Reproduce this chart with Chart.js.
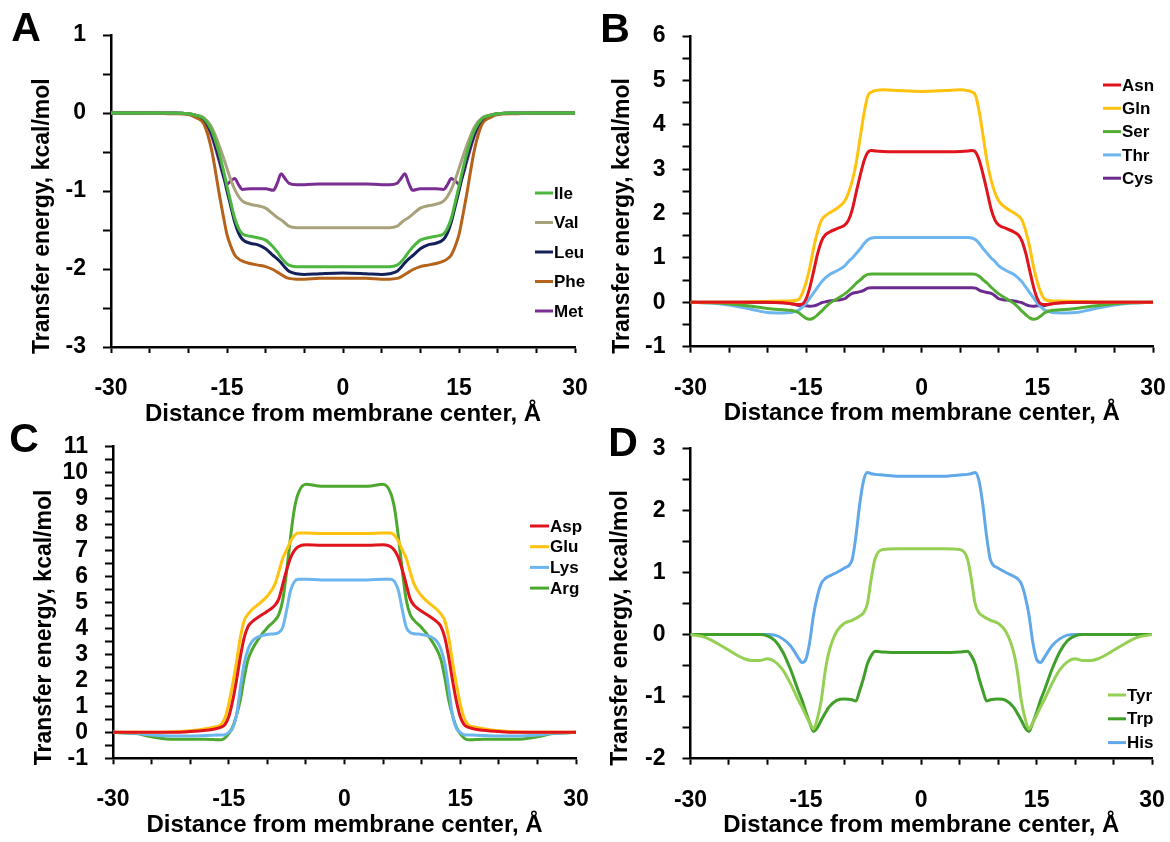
<!DOCTYPE html>
<html>
<head>
<meta charset="utf-8">
<script src="https://cdn.jsdelivr.net/npm/chart.js@4.4.1/dist/chart.umd.min.js"></script>
<style>
html,body{margin:0;padding:0;background:#fff;}
#wrap{position:relative;width:1170px;height:842px;overflow:hidden;background:#fff;}
#wrap canvas{position:absolute;left:0;top:0;}
</style>
</head>
<body>
<div id="wrap">
<canvas id="cA" width="1170" height="842"></canvas>
<canvas id="cB" width="1170" height="842"></canvas>
<canvas id="cC" width="1170" height="842"></canvas>
<canvas id="cD" width="1170" height="842"></canvas>
</div>
<script>
// ---------- Panel A ----------
const xA = [-30,-25,-22,-20,-19,-18,-17,-16,-15.5,-15,-14.5,-14,-13.5,-13,-12,-11,-10,-9,-8.5,-8,-7.5,-7,-6,-5,-3,0,3,5,6,7,7.5,8,8.5,9,10,11,12,13,13.5,14,14.5,15,15.5,16,17,18,19,20,22,25,30];
const ile = [0,0,0,-0.01,-0.03,-0.07,-0.22,-0.52,-0.72,-0.94,-1.15,-1.35,-1.48,-1.55,-1.58,-1.6,-1.63,-1.72,-1.78,-1.85,-1.91,-1.95,-1.97,-1.97,-1.97,
  -1.97,
  -1.97,-1.97,-1.97,-1.95,-1.91,-1.85,-1.78,-1.72,-1.63,-1.6,-1.58,-1.55,-1.48,-1.35,-1.15,-0.94,-0.72,-0.52,-0.22,-0.07,-0.03,-0.01,0,0,0];
const val = [0,0,0,-0.01,-0.03,-0.06,-0.18,-0.42,-0.56,-0.71,-0.86,-0.98,-1.07,-1.13,-1.17,-1.19,-1.22,-1.3,-1.34,-1.37,-1.41,-1.45,-1.47,-1.47,-1.47,
  -1.47,
  -1.47,-1.47,-1.47,-1.45,-1.41,-1.37,-1.34,-1.3,-1.22,-1.19,-1.17,-1.13,-1.07,-0.98,-0.86,-0.71,-0.56,-0.42,-0.18,-0.06,-0.03,-0.01,0,0,0];
const leu = [0,0,0,-0.01,-0.03,-0.08,-0.26,-0.58,-0.78,-1,-1.2,-1.4,-1.54,-1.62,-1.67,-1.69,-1.74,-1.83,-1.87,-1.92,-1.98,-2.03,-2.06,-2.07,-2.06,
  -2.05,
  -2.06,-2.07,-2.06,-2.03,-1.98,-1.92,-1.87,-1.83,-1.74,-1.69,-1.67,-1.62,-1.54,-1.4,-1.2,-1,-0.78,-0.58,-0.26,-0.08,-0.03,-0.01,0,0,0];
const phe = [0,0,-0.01,-0.02,-0.06,-0.14,-0.47,-1.04,-1.31,-1.56,-1.71,-1.82,-1.87,-1.9,-1.93,-1.95,-1.97,-2.01,-2.04,-2.07,-2.1,-2.12,-2.13,-2.13,-2.12,
  -2.12,
  -2.12,-2.13,-2.13,-2.12,-2.1,-2.07,-2.04,-2.01,-1.97,-1.95,-1.93,-1.9,-1.87,-1.82,-1.71,-1.56,-1.31,-1.04,-0.47,-0.14,-0.06,-0.02,-0.01,0,0];
const met = [0,0,0,-0.01,-0.03,-0.09,-0.29,-0.62,-0.8,-0.91,-0.87,-0.84,-0.92,-0.98,-0.97,-0.97,-0.97,-0.99,-0.9,-0.78,-0.84,-0.9,-0.92,-0.92,-0.91,
  -0.91,
  -0.91,-0.92,-0.92,-0.9,-0.84,-0.78,-0.9,-0.99,-0.97,-0.97,-0.97,-0.98,-0.92,-0.84,-0.87,-0.91,-0.8,-0.62,-0.29,-0.09,-0.03,-0.01,0,0,0];

// ---------- Panel B ----------
const xB = [-30,-27,-25,-22,-20,-18,-17,-16,-15.5,-15,-14.5,-14,-13.5,-13,-12.5,-12,-11,-10,-9.5,-9,-8.5,-8,-7.5,-7,-6.5,-6,-5,-3,0,3,5,6,6.5,7,7.5,8,8.5,9,9.5,10,11,12,12.5,13,13.5,14,14.5,15,15.5,16,17,18,20,22,25,27,30];
const asn = [0,0,0,0,0,-0.01,-0.03,-0.05,-0.04,0.08,0.35,0.72,1.1,1.38,1.52,1.58,1.66,1.74,1.85,2.1,2.48,2.85,3.18,3.38,3.42,3.41,3.4,3.39,
  3.39,
  3.39,3.4,3.41,3.42,3.38,3.18,2.85,2.48,2.1,1.85,1.74,1.66,1.58,1.52,1.38,1.1,0.72,0.35,0.08,-0.04,-0.05,-0.03,-0.01,0,0,0,0,0];
const gln = [0,0,0,0.01,0.02,0.03,0.03,0.06,0.2,0.45,0.8,1.25,1.6,1.85,1.95,2.01,2.12,2.28,2.47,2.75,3.15,3.7,4.25,4.65,4.74,4.77,4.79,4.77,
  4.75,
  4.77,4.79,4.77,4.74,4.65,4.25,3.7,3.15,2.75,2.47,2.28,2.12,2.01,1.95,1.85,1.6,1.25,0.8,0.45,0.2,0.06,0.03,0.03,0.02,0.01,0,0,0];
const ser = [0,-0.01,-0.03,-0.09,-0.14,-0.17,-0.18,-0.23,-0.3,-0.36,-0.38,-0.35,-0.28,-0.2,-0.11,-0.03,0.08,0.19,0.26,0.34,0.43,0.5,0.58,0.63,0.64,0.64,0.64,0.64,
  0.64,
  0.64,0.64,0.64,0.64,0.63,0.58,0.5,0.43,0.34,0.26,0.19,0.08,-0.03,-0.11,-0.2,-0.28,-0.35,-0.38,-0.36,-0.3,-0.23,-0.18,-0.17,-0.14,-0.09,-0.03,-0.01,0];
const thr = [0,-0.02,-0.06,-0.16,-0.23,-0.24,-0.23,-0.18,-0.11,-0.02,0.1,0.22,0.34,0.46,0.55,0.62,0.71,0.82,0.92,1.0,1.1,1.2,1.32,1.41,1.45,1.46,1.46,1.46,
  1.46,
  1.46,1.46,1.46,1.45,1.41,1.32,1.2,1.1,1.0,0.92,0.82,0.71,0.62,0.55,0.46,0.34,0.22,0.1,-0.02,-0.11,-0.18,-0.23,-0.24,-0.23,-0.16,-0.06,-0.02,0];
const cys = [0,0,0,0,0,-0.01,-0.03,-0.07,-0.08,-0.08,-0.09,-0.08,-0.05,-0.01,0.01,0.03,0.05,0.08,0.15,0.2,0.22,0.24,0.27,0.32,0.33,0.33,0.33,0.33,
  0.33,
  0.33,0.33,0.33,0.33,0.32,0.27,0.24,0.22,0.2,0.15,0.08,0.05,0.03,0.01,-0.01,-0.05,-0.08,-0.09,-0.08,-0.08,-0.07,-0.03,-0.01,0,0,0,0,0];

// ---------- Panel C ----------
const xC = [-30,-27,-25,-22,-20,-18,-17,-16,-15.5,-15,-14.5,-14,-13.5,-13,-12.5,-12,-11,-10,-9,-8.5,-8,-7.5,-7,-6.5,-6,-5,-3,0,3,5,6,6.5,7,7.5,8,8.5,9,10,11,12,12.5,13,13.5,14,14.5,15,15.5,16,17,18,20,22,25,27,30];
const asp = [0,0,0,0,0.03,0.08,0.12,0.2,0.3,0.6,1.2,2.0,2.9,3.65,4.07,4.25,4.47,4.66,4.9,5.15,5.7,6.25,6.72,7.0,7.15,7.22,7.2,
  7.2,
  7.2,7.22,7.15,7.0,6.72,6.25,5.7,5.15,4.9,4.66,4.47,4.25,4.07,3.65,2.9,2.0,1.2,0.6,0.3,0.2,0.12,0.08,0.03,0,0,0,0];
const glu = [0,0,0,0.02,0.06,0.14,0.2,0.3,0.55,1.1,1.85,2.7,3.65,4.3,4.55,4.72,4.97,5.25,5.72,6.2,6.7,7.02,7.35,7.58,7.68,7.68,7.66,
  7.66,
  7.66,7.68,7.68,7.58,7.35,7.02,6.7,6.2,5.72,5.25,4.97,4.72,4.55,4.3,3.65,2.7,1.85,1.1,0.55,0.3,0.2,0.14,0.06,0.02,0,0,0];
const lys = [0,-0.04,-0.1,-0.14,-0.14,-0.12,-0.11,-0.1,-0.09,0,0.15,0.65,1.7,2.65,3.2,3.49,3.7,3.77,3.8,3.85,4.05,4.7,5.45,5.8,5.9,5.9,5.87,
  5.87,
  5.87,5.9,5.9,5.8,5.45,4.7,4.05,3.85,3.8,3.77,3.7,3.49,3.2,2.65,1.7,0.65,0.15,0,-0.09,-0.1,-0.11,-0.12,-0.14,-0.14,-0.1,-0.04,0];
const arg = [0,-0.05,-0.17,-0.27,-0.27,-0.27,-0.28,-0.29,-0.22,-0.05,0.2,0.65,1.25,2.1,2.8,3.17,3.66,4.03,4.32,4.55,5.1,6.2,7.5,8.6,9.2,9.55,9.48,
  9.48,
  9.48,9.55,9.2,8.6,7.5,6.2,5.1,4.55,4.32,4.03,3.66,3.17,2.8,2.1,1.25,0.65,0.2,-0.05,-0.22,-0.29,-0.28,-0.27,-0.27,-0.27,-0.17,-0.05,0];

// ---------- Panel D ----------
const xD = [-30,-28,-26,-24,-23,-22,-21,-20,-19,-18,-17,-16,-15.5,-15,-14.5,-14,-13.5,-13,-12.5,-12,-11,-10,-9,-8.5,-8,-7.5,-7,-6.5,-6,-5,-3,0,3,5,6,6.5,7,7.5,8,8.5,9,10,11,12,12.5,13,13.5,14,14.5,15,15.5,16,17,18,19,20,21,22,23,24,26,28,30];
const tyr = [0,-0.05,-0.18,-0.33,-0.39,-0.42,-0.42,-0.39,-0.44,-0.57,-0.79,-1.05,-1.17,-1.3,-1.42,-1.52,-1.35,-1.06,-0.6,-0.28,0.05,0.18,0.23,0.26,0.3,0.35,0.5,0.9,1.22,1.37,1.38,
  1.38,
  1.38,1.37,1.22,0.9,0.5,0.35,0.3,0.26,0.23,0.18,0.05,-0.28,-0.6,-1.06,-1.35,-1.52,-1.42,-1.3,-1.17,-1.05,-0.79,-0.57,-0.44,-0.39,-0.42,-0.42,-0.39,-0.33,-0.18,-0.05,0];
const trp = [0,0,0,0,0,0,0,-0.02,-0.1,-0.28,-0.56,-0.9,-1.06,-1.25,-1.42,-1.56,-1.5,-1.38,-1.27,-1.17,-1.06,-1.04,-1.05,-1.07,-0.9,-0.7,-0.47,-0.34,-0.27,-0.28,-0.29,
  -0.29,
  -0.29,-0.28,-0.27,-0.34,-0.47,-0.7,-0.9,-1.07,-1.05,-1.04,-1.06,-1.17,-1.27,-1.38,-1.5,-1.56,-1.42,-1.25,-1.06,-0.9,-0.56,-0.28,-0.1,-0.02,0,0,0,0,0,0,0];
const his = [0,0,0,0,0,0,0,0,-0.01,-0.07,-0.18,-0.37,-0.45,-0.4,-0.12,0.32,0.62,0.82,0.9,0.94,1.0,1.07,1.2,1.58,2.1,2.48,2.61,2.59,2.58,2.57,2.55,
  2.55,
  2.55,2.57,2.58,2.59,2.61,2.48,2.1,1.58,1.2,1.07,1.0,0.94,0.9,0.82,0.62,0.32,-0.12,-0.4,-0.45,-0.37,-0.18,-0.07,-0.01,0,0,0,0,0,0,0,0];

// ---------- Labels ----------
const X_TITLE = 'Distance from membrane center, Å';
const Y_TITLE = 'Transfer energy, kcal/mol';
const X_TICK_LABELS = [-30, -15, 0, 15, 30];

const FONT = '"Liberation Sans", Arial, sans-serif';
Chart.defaults.font.family = FONT;
Chart.defaults.color = '#000';

const X_TITLE_SIZE = 24;
const X_H = 67 + X_TITLE_SIZE * 0.6; // x-axis block height (ticks + labels + title)

const panelPlugin = {
  id: 'panelDecor',
  afterDraw(chart, args, opts) {
    const ctx = chart.ctx;
    const ca = chart.chartArea;
    ctx.save();
    // panel letter
    ctx.fillStyle = '#000';
    ctx.font = 'bold 41px ' + FONT;
    ctx.textAlign = 'center';
    ctx.textBaseline = 'middle';
    ctx.fillText(opts.letter, opts.letterX, opts.letterY);
    // y title
    ctx.save();
    ctx.translate(opts.yTitleX, ca.bottom + 7);
    ctx.rotate(-Math.PI / 2);
    ctx.font = 'bold 23px ' + FONT;
    ctx.textAlign = 'left';
    ctx.textBaseline = 'middle';
    ctx.fillText(Y_TITLE, 0, 0);
    ctx.restore();
    // legend
    ctx.font = 'bold 17px ' + FONT;
    ctx.textAlign = 'left';
    ctx.textBaseline = 'middle';
    chart.data.datasets.forEach((ds, i) => {
      const y = opts.legY0 + i * opts.legDY;
      ctx.strokeStyle = ds.borderColor;
      ctx.lineWidth = 3;
      ctx.beginPath();
      ctx.moveTo(opts.legX1, y);
      ctx.lineTo(opts.legX2, y);
      ctx.stroke();
      ctx.fillStyle = '#000';
      ctx.fillText(ds.label, opts.legX2 + 1, y + 1);
    });
    ctx.restore();
  }
};

function makePanel(p) {
  const datasets = p.series.map(s => ({
    label: s.label,
    data: p.x.map((xv, i) => ({ x: xv, y: s.values[i] })),
    borderColor: s.color,
    backgroundColor: s.color,
    borderWidth: 3,
    pointRadius: 0,
    fill: false,
    cubicInterpolationMode: 'monotone'
  }));
  new Chart(document.getElementById(p.id), {
    type: 'line',
    data: { datasets },
    options: {
      responsive: false,
      animation: false,
      devicePixelRatio: 1,
      events: [],
      layout: {
        padding: {
          left: p.panelLeft,
          right: 1170 - p.right,
          top: p.top,
          bottom: 842 - p.bottom - X_H
        }
      },
      plugins: {
        legend: { display: false },
        tooltip: { enabled: false },
        title: { display: false },
        panelDecor: p.decor
      },
      scales: {
        x: {
          type: 'linear',
          position: 'bottom',
          min: -30, max: 30,
          ticks: {
            stepSize: 5,
            autoSkip: false,
            maxRotation: 0,
            padding: 22,
            color: '#000',
            font: { size: 23, weight: 'bold' },
            callback: v => (X_TICK_LABELS.includes(v) ? String(v) : '')
          },
          grid: { drawOnChartArea: false, drawTicks: true, tickLength: 6, tickWidth: 2, tickColor: '#000' },
          border: { display: true, color: '#000', width: 2.5 },
          title: { display: true, text: X_TITLE, color: '#000', padding: 0, font: { size: X_TITLE_SIZE, weight: 'bold' } },
          afterFit: s => { s.height = X_H; s.paddingLeft = 0; s.paddingRight = 0; }
        },
        y: {
          type: 'linear',
          position: 'left',
          min: p.yMin, max: p.yMax,
          ticks: {
            stepSize: 0.5,
            autoSkip: false,
            padding: 17,
            color: '#000',
            font: { size: 23, weight: 'bold' },
            callback: v => (Number.isInteger(v) ? String(v) : '')
          },
          grid: { drawOnChartArea: false, drawTicks: true, tickLength: 8, tickWidth: 2, tickColor: '#000' },
          border: { display: true, color: '#000', width: 2.5 },
          afterFit: s => { s.width = p.left - p.panelLeft; s.paddingTop = 0; s.paddingBottom = 0; }
        }
      }
    },
    plugins: [panelPlugin]
  });
}

makePanel({
  id: 'cA', panelLeft: 0, left: 111, right: 575, top: 35, bottom: 347, yMin: -3, yMax: 1, x: xA,
  series: [
    { label: 'Ile', values: ile, color: '#4DB63F' },
    { label: 'Val', values: val, color: '#A8A27C' },
    { label: 'Leu', values: leu, color: '#14205A' },
    { label: 'Phe', values: phe, color: '#B5621A' },
    { label: 'Met', values: met, color: '#7A2D92' }
  ],
  decor: { letter: 'A', letterX: 26, letterY: 30, yTitleX: 43, legX1: 535, legX2: 553, legY0: 193, legDY: 29.5 }
});

makePanel({
  id: 'cB', panelLeft: 585, left: 690.5, right: 1153, top: 36, bottom: 346.7, yMin: -1, yMax: 6, x: xB,
  series: [
    { label: 'Asn', values: asn, color: '#E0141C' },
    { label: 'Gln', values: gln, color: '#FFC20E' },
    { label: 'Ser', values: ser, color: '#52AE32' },
    { label: 'Thr', values: thr, color: '#6DB5EF' },
    { label: 'Cys', values: cys, color: '#6B2B8F' }
  ],
  decor: { letter: 'B', letterX: 615, letterY: 31, yTitleX: 623, legX1: 1103, legX2: 1121, legY0: 85, legDY: 23.3 }
});

makePanel({
  id: 'cC', panelLeft: 0, left: 113, right: 576, top: 446.7, bottom: 758.3, yMin: -1, yMax: 11, x: xC,
  series: [
    { label: 'Asp', values: asp, color: '#E0141C' },
    { label: 'Glu', values: glu, color: '#FFC20E' },
    { label: 'Lys', values: lys, color: '#6DB5EF' },
    { label: 'Arg', values: arg, color: '#4CA82F' }
  ],
  decor: { letter: 'C', letterX: 24, letterY: 441, yTitleX: 45, legX1: 530, legX2: 549, legY0: 526, legDY: 20.7 }
});

makePanel({
  id: 'cD', panelLeft: 585, left: 690.5, right: 1152, top: 448.3, bottom: 758.7, yMin: -2, yMax: 3, x: xD,
  series: [
    { label: 'Tyr', values: tyr, color: '#95D055' },
    { label: 'Trp', values: trp, color: '#3F9F2A' },
    { label: 'His', values: his, color: '#61A8EA' }
  ],
  decor: { letter: 'D', letterX: 623, letterY: 445, yTitleX: 621, legX1: 1108, legX2: 1126, legY0: 695, legDY: 23.8 }
});
</script>
</body>
</html>
